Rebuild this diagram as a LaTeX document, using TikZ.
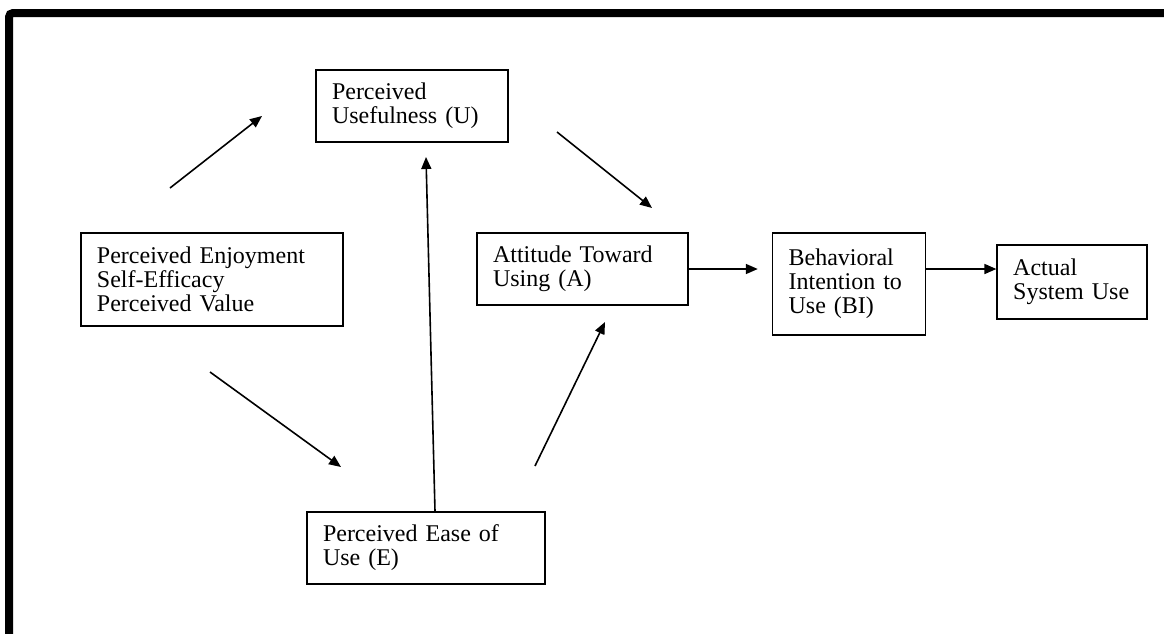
\documentclass[tikz,border=0pt]{standalone}
\usepackage{fontspec}
\setmainfont{Liberation Serif}
\usetikzlibrary{arrows.meta,positioning}

\begin{document}
\begin{tikzpicture}[x=0.5pt,y=-0.5pt,->,>={Triangle[length=6pt,width=5pt]},
  box/.style={draw,line width=0.8pt,align=left,inner xsep=8pt,
    font=\fontsize{12}{12}\selectfont},
  link/.style={line width=0.8pt}]
  \useasboundingbox (0,0) rectangle (1164,633);
  \draw[-,line width=4pt,rounded corners=2pt] (9,650) -- (9,13) -- (1180,13);
  \node[box,text width=115pt,minimum height=46.5pt] (ext) at (212,279.5)
    {Perceived Enjoyment\\Self-Efficacy\\Perceived Value};
  \node[box,text width=80pt,minimum height=36pt] (pu) at (412,106)
    {Perceived\\Usefulness (U)};
  \node[box,text width=89.5pt,minimum height=36pt] (att) at (582.5,269)
    {Attitude Toward\\Using (A)};
  \node[box,text width=60.5pt,minimum height=51pt]
    (bi) [right=41.5pt of att.north east,anchor=north west] {Behavioral\\Intention to\\Use (BI)};
  \node[box,text width=59pt,minimum height=37pt]
    (asu) [below right=6pt and 35pt of bi.north east,anchor=north west] {Actual\\System Use};
  \node[box,text width=103pt,minimum height=36pt] (peou) at (426,548)
    {Perceived Ease of\\Use (E)};
  % free ends of the loose arrows
  \coordinate (s1) at (170,188);  \coordinate (e1) at (262,116);
  \coordinate (s2) at (210,372);  \coordinate (e2) at (341,467);
  \coordinate (eu) at (426,157);
  \coordinate (s3) at (535,466);  \coordinate (e3) at (605,322);
  \coordinate (s4) at (557,132);  \coordinate (e4) at (652,208);
\path[link] (s1) edge (e1)
	  (s2) edge (e2)
	  ([xshift=4.5pt]peou.north) edge (eu)
	  (s3) edge (e3)
	  (s4) edge (e4)
	  (att.east) edge[shorten >=7pt] (att.east -| bi.west)
	  (bi.east |- att.east) edge (att.east -| asu.west);
\end{tikzpicture}
\end{document}
